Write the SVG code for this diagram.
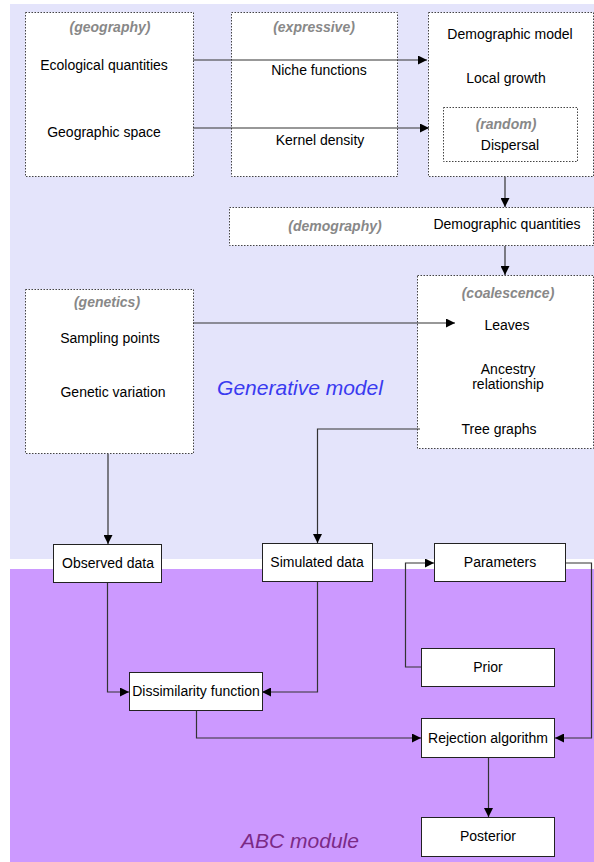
<svg xmlns="http://www.w3.org/2000/svg" width="594" height="862" viewBox="0 0 594 862">
<style>
text{font-family:"Liberation Sans",Arial,sans-serif;font-size:14px;fill:#000;text-anchor:middle}
.cat{font-weight:bold;font-style:italic;fill:#888}
.dot{fill:#fff;stroke:#444;stroke-width:1;stroke-dasharray:1.5 1.5}
.box{fill:#fff;stroke:#222;stroke-width:1}
.c{fill:none;stroke:#333;stroke-width:1.2}
.big{font-size:21px;font-style:italic}
</style>
<defs>
<marker id="ah" viewBox="0 0 10 10" refX="10" refY="5" markerWidth="12" markerHeight="9" markerUnits="userSpaceOnUse" orient="auto">
<path d="M0,0 L10,5 L0,10 z" fill="#000"/>
</marker>
</defs>
<g id="backgrounds">
<rect x="10" y="4" width="584" height="555" fill="#e4e4fb"/>
<rect x="10" y="569" width="584" height="293" fill="#cc99ff"/>
<text class="big" x="300" y="395" style="fill:#3a3af0">Generative model</text>
<text class="big" x="300" y="848" style="fill:#7b2a86">ABC module</text>
</g>
<g id="geography">
<rect class="dot" x="25.5" y="12.5" width="168" height="164"/>
<text class="cat" x="110" y="32">(geography)</text>
<text x="104" y="70">Ecological quantities</text>
<text x="104" y="137">Geographic space</text>
</g>
<g id="expressive">
<rect class="dot" x="231.5" y="12.5" width="166" height="164"/>
<text class="cat" x="314" y="32">(expressive)</text>
<text x="319" y="75">Niche functions</text>
<text x="320" y="145">Kernel density</text>
</g>
<g id="demographic-model">
<rect class="dot" x="428.5" y="12.5" width="165" height="164"/>
<text x="510" y="39">Demographic model</text>
<text x="506" y="83">Local growth</text>
<g id="random">
<rect class="dot" x="443.5" y="107.5" width="134" height="54"/>
<text class="cat" x="506" y="129">(random)</text>
<text x="510" y="150">Dispersal</text>
</g>
</g>
<g id="demography">
<rect class="dot" x="229.5" y="207.5" width="364" height="38"/>
<text class="cat" x="335" y="231">(demography)</text>
<text x="507" y="229">Demographic quantities</text>
</g>
<g id="genetics">
<rect class="dot" x="25.5" y="289.5" width="168" height="164"/>
<text class="cat" x="107" y="307">(genetics)</text>
<text x="110" y="343">Sampling points</text>
<text x="113" y="397">Genetic variation</text>
</g>
<g id="coalescence">
<rect class="dot" x="417.5" y="275.5" width="176" height="173"/>
<text class="cat" x="508" y="298">(coalescence)</text>
<text x="507" y="330">Leaves</text>
<text x="508" y="374">Ancestry</text>
<text x="508" y="389">relationship</text>
<text x="499" y="434">Tree graphs</text>
</g>
<g id="observed-data">
<rect class="box" x="53.5" y="544.5" width="108" height="38"/>
<text x="108" y="568">Observed data</text>
</g>
<g id="simulated-data">
<rect class="box" x="262.5" y="543.5" width="110" height="38"/>
<text x="317" y="567">Simulated data</text>
</g>
<g id="parameters">
<rect class="box" x="434.5" y="543.5" width="131" height="38"/>
<text x="500" y="567">Parameters</text>
</g>
<g id="prior">
<rect class="box" x="421.5" y="648.5" width="133" height="38"/>
<text x="488" y="672">Prior</text>
</g>
<g id="dissimilarity">
<rect class="box" x="129.5" y="672.5" width="133" height="38"/>
<text x="196" y="696">Dissimilarity function</text>
</g>
<g id="rejection">
<rect class="box" x="421.5" y="718.5" width="133" height="39"/>
<text x="488" y="743">Rejection algorithm</text>
</g>
<g id="posterior">
<rect class="box" x="421.5" y="817.5" width="133" height="39"/>
<text x="488" y="841">Posterior</text>
</g>
<g id="connectors">
<path class="c" d="M193,60 H427" marker-end="url(#ah)"/>
<path class="c" d="M193,128 H429" marker-end="url(#ah)"/>
<path class="c" d="M505,177 V207" marker-end="url(#ah)"/>
<path class="c" d="M505,246 V275" marker-end="url(#ah)"/>
<path class="c" d="M193,323 H455" marker-end="url(#ah)"/>
<path class="c" d="M108,454 V544" marker-end="url(#ah)"/>
<path class="c" d="M420,429 H317.5 V543" marker-end="url(#ah)"/>
<path class="c" d="M107.5,583 V692 H129" marker-end="url(#ah)"/>
<path class="c" d="M317.5,582 V692 H262" marker-end="url(#ah)"/>
<path class="c" d="M421,667 H405.5 V563 H434" marker-end="url(#ah)"/>
<path class="c" d="M566,563 H591.5 V738 H555" marker-end="url(#ah)"/>
<path class="c" d="M196.5,711 V738 H421" marker-end="url(#ah)"/>
<path class="c" d="M488.5,758 V817" marker-end="url(#ah)"/>
</g>
</svg>
